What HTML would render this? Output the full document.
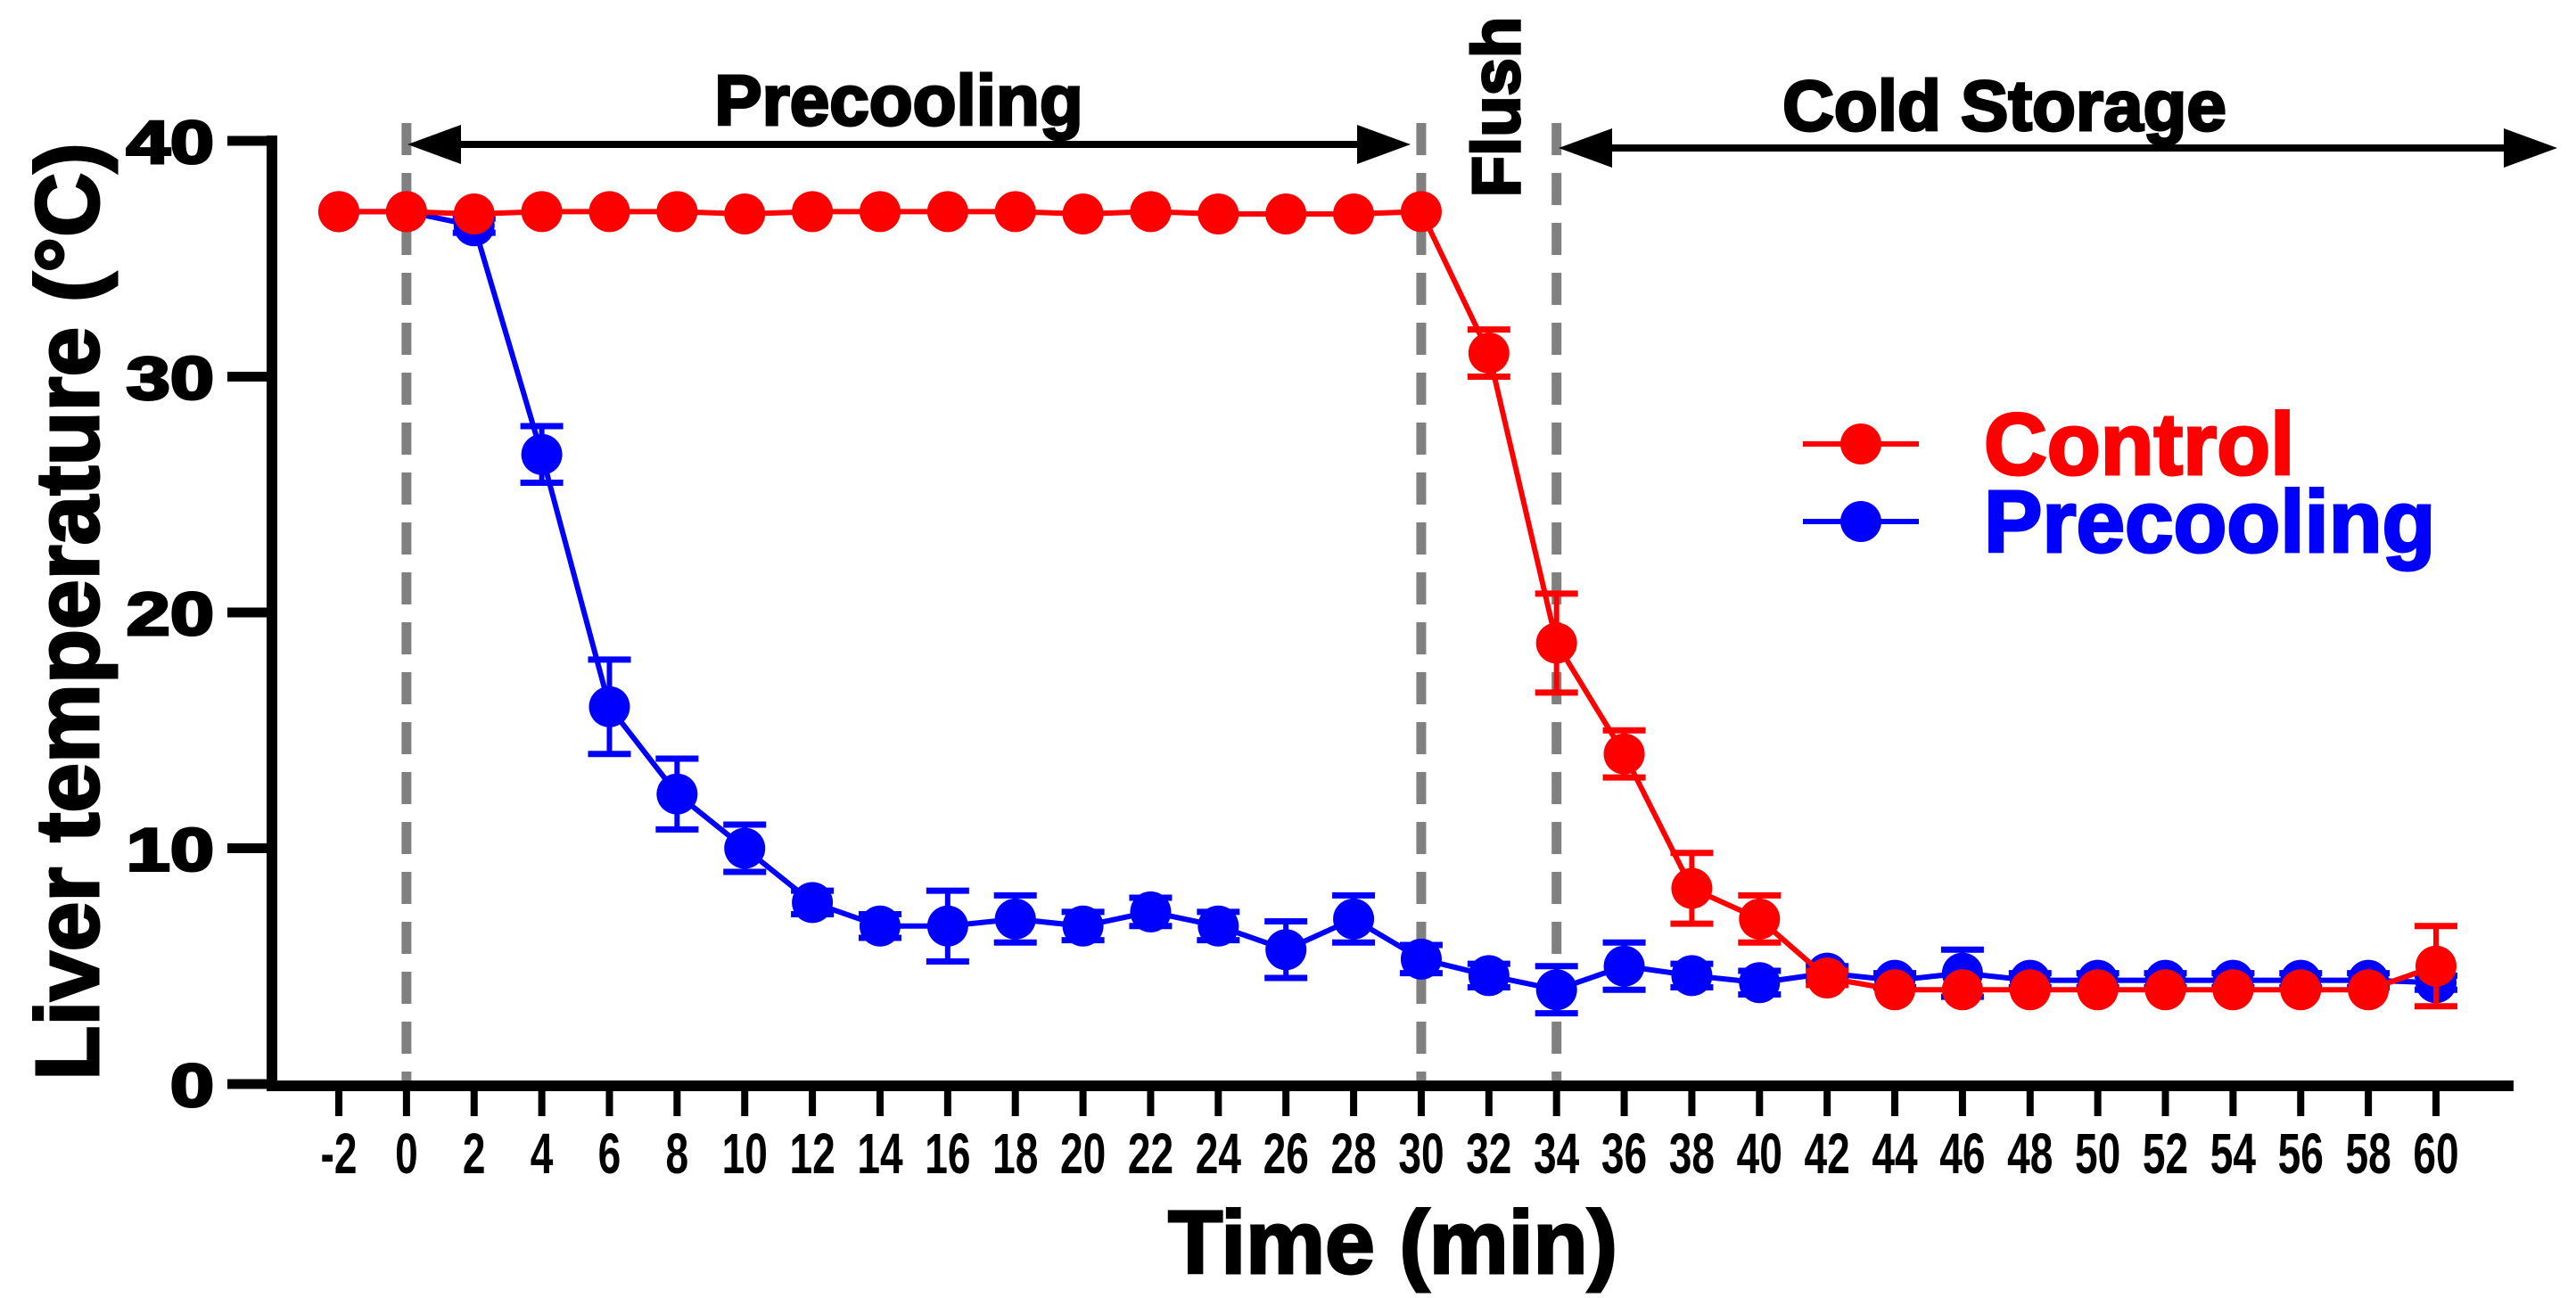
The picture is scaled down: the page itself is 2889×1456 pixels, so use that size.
<!DOCTYPE html>
<html><head><meta charset="utf-8"><style>
html,body{margin:0;padding:0;background:#fff;}
svg{display:block;font-family:"Liberation Sans",Arial,sans-serif;font-weight:bold;}
.heavy{stroke:currentColor;stroke-width:3;}
</style></head><body>
<svg id="chart" width="2889" height="1456" viewBox="0 0 2889 1456" xmlns="http://www.w3.org/2000/svg">
<g id="grid"></g>
<g id="axes"></g>
<g id="series"></g>
<g id="annot"></g>
</svg>
<script>
const times=[-2,0,2,4,6,8,10,12,14,16,18,20,22,24,26,28,30,32,34,36,38,40,42,44,46,48,50,52,54,56,58,60];
const controlVals=[37,37,36.9,37,37,37,36.9,37,37,37,37,36.9,37,36.9,36.9,36.9,37,31,18.7,14,8.3,7,4.5,4,4,4,4,4,4,4,4,5];
const controlErr=[0,0,0,0,0,0,0,0,0,0,0,0,0,0,0,0,0,1,2.1,1,1.5,1,0.3,0,0,0,0,0,0,0,0,1.7];
const precoolVals=[37,37,36.4,26.7,16,12.3,10,7.7,6.7,6.7,7,6.7,7.3,6.7,5.7,7,5.3,4.6,4,5,4.6,4.3,4.7,4.4,4.7,4.4,4.4,4.4,4.4,4.4,4.4,4.3];
const precoolErr=[0,0,0.3,1.2,2,1.5,1,0.5,0.5,1.5,1,0.6,0.6,0.6,1.2,1,0.6,0.5,1,1,0.5,0.5,0.3,0.3,1,0.3,0.3,0.3,0.3,0.3,0.3,0.3];
const yTicks=[0,10,20,30,40];
const phaseLines=[0,30,34];

const NS="http://www.w3.org/2000/svg";
function X(t){return 380+(t+2)*(2732-380)/62;}
function Y(v){return 1216-v*(1216-158)/40;}
function el(tag,attrs,parent,text){const e=document.createElementNS(NS,tag);for(const k in attrs)e.setAttribute(k,attrs[k]);if(text!==undefined)e.textContent=text;parent.appendChild(e);return e;}
const axes=document.getElementById('axes'),series=document.getElementById('series'),annot=document.getElementById('annot'),grid=document.getElementById('grid');

phaseLines.forEach(t=>{
 const l=el('line',{x1:X(t),x2:X(t),y1:138,y2:1216,stroke:'#808080','stroke-width':11,'stroke-dasharray':'36,20'},grid);
 
 
});

let ya=el('line',{x1:305,x2:305,y1:152,y2:1222,stroke:'#000','stroke-width':12},axes);


let xa=el('line',{x1:299,x2:2819,y1:1218,y2:1218,stroke:'#000','stroke-width':12},axes);


yTicks.forEach(v=>{
 el('line',{x1:255,x2:305,y1:Y(v),y2:Y(v),stroke:'#000','stroke-width':11},axes);
 const t=el('text',{x:0,y:0,'text-anchor':'end','font-size':68,class:'heavy',transform:`translate(240,${Y(v)+25}) scale(1.3,1)`},axes,String(v));
 
 
});
times.forEach(tm=>{
 el('line',{x1:X(tm),x2:X(tm),y1:1218,y2:1252,stroke:'#000','stroke-width':8},axes);
 const t=el('text',{x:0,y:0,'text-anchor':'middle','font-size':64,transform:`translate(${X(tm)},1316) scale(0.72,1)`},axes,String(tm));
 
 
});
let yt=el('text',{x:0,y:0,'text-anchor':'middle','font-size':100,class:'heavy',transform:'translate(110,686) rotate(-90)'},axes,'Liver temperature (°C)');


let xt=el('text',{x:1562,y:1428,'text-anchor':'middle','font-size':100,class:'heavy'},axes,'Time (min)');



function drawSeries(vals,errs,color,name){
 const g=el('g',{},series);
 
 
 el('polyline',{points:times.map((t,i)=>X(t)+','+Y(vals[i])).join(' '),fill:'none',stroke:color,'stroke-width':6},g);
 times.forEach((t,i)=>{
  if(errs[i]>0){
   const x=X(t),y1=Y(vals[i]+errs[i]),y2=Y(vals[i]-errs[i]);
   el('line',{x1:x,x2:x,y1:y1,y2:y2,stroke:color,'stroke-width':6},g);
   el('line',{x1:x-24,x2:x+24,y1:y1,y2:y1,stroke:color,'stroke-width':7},g);
   el('line',{x1:x-24,x2:x+24,y1:y2,y2:y2,stroke:color,'stroke-width':7},g);
  }
  const c=el('circle',{cx:X(t),cy:Y(vals[i]),r:23,fill:color},g);
  
  
 });
}
drawSeries(precoolVals,precoolErr,'#0000ff','precooling');
drawSeries(controlVals,controlErr,'#ff0000','control');

function arrow(x1,x2,y,name){
 const g=el('g',{},annot);
 
 
 el('line',{x1:x1+40,x2:x2-40,y1:y,y2:y,stroke:'#000','stroke-width':8},g);
 el('polygon',{points:`${x1},${y} ${x1+60},${y-22} ${x1+60},${y+22}`,fill:'#000'},g);
 el('polygon',{points:`${x2},${y} ${x2-60},${y-22} ${x2-60},${y+22}`,fill:'#000'},g);
}
arrow(457,1582,162,'precooling-arrow');
arrow(1748,2868,166,'cold-storage-arrow');
let a1=el('text',{x:1008,y:140,'text-anchor':'middle','font-size':80,class:'heavy'},annot,'Precooling');


let a2=el('text',{x:2248,y:146,'text-anchor':'middle','font-size':80,class:'heavy'},annot,'Cold Storage');


let a3=el('text',{x:0,y:0,'text-anchor':'middle','font-size':76,class:'heavy',transform:'translate(1704,120) rotate(-90)'},annot,'Flush');



const lg=el('g',{},annot);


[['Control','#ff0000',498],['Precooling','#0000ff',585]].forEach(([lab,c,y])=>{
 el('line',{x1:2022,x2:2152,y1:y,y2:y,stroke:c,'stroke-width':6},lg);
 el('circle',{cx:2087,cy:y,r:23,fill:c},lg);
 const t=el('text',{x:2225,y:y+34,'font-size':98,fill:c,stroke:c,'stroke-width':3},lg,lab);
 
 
});
</script>
</body></html>
